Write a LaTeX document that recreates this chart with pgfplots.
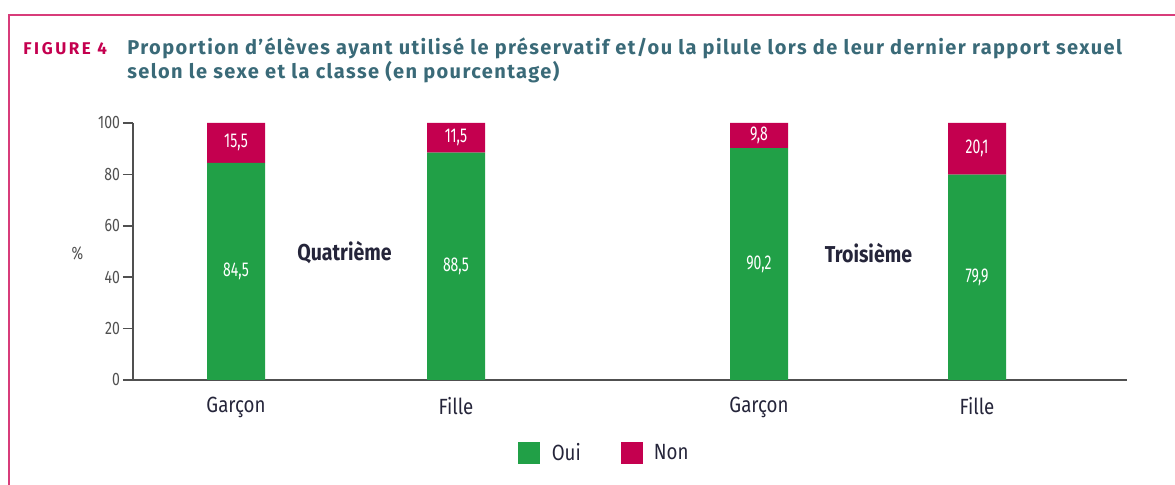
\documentclass[border=0pt]{standalone}
\usepackage{pgfplots}
\pgfplotsset{compat=1.18}
\usepackage{pgfplotstable}
\usepackage{fontspec}
\setmainfont{Fira Sans}
\newfontfamily\cond{Fira Sans}[FakeStretch=0.85]
\newfontfamily\tcond{Fira Sans}[FakeStretch=0.78]
\newfontfamily\vcond{Fira Sans}[FakeStretch=0.7]
\newfontfamily\titlefont{Fira Sans}[LetterSpace=7]
\newfontfamily\figfont{Fira Sans}[LetterSpace=15]
\definecolor{oui}{HTML}{21A047}
\definecolor{non}{HTML}{C4004F}
\definecolor{framec}{HTML}{D83C7A}
\definecolor{titlec}{HTML}{3A6A78}
\definecolor{axisc}{HTML}{505050}
\definecolor{catc}{HTML}{25253A}
\pgfplotstableread{
x oui non
236 84.5 15.5
456 88.5 11.5
759 90.2 9.8
977 79.9 20.1
}\data
\begin{document}
\begin{tikzpicture}
\pgfplotsset{
  common/.style={
    at={(66.5pt,52.5pt)}, anchor=south west,
    scale only axis, width=497pt, height=128.5pt,
    xmin=133, xmax=1127, ymin=0, ymax=100,
  }
}
\draw[framec, line width=1pt] (4.5pt,0pt) -- (4.5pt,235pt) -- (587.5pt,235pt);
\node[anchor=base west, inner sep=0pt, font=\figfont\fontsize{8.5}{10}\selectfont\bfseries, text=non] at (11.5pt,215pt) {FIGURE 4};
\node[anchor=base west, inner sep=0pt, font=\titlefont\fontsize{10}{12}\selectfont\bfseries, text=titlec] at (63.5pt,215pt) {Proportion d’élèves ayant utilisé le préservatif et/ou la pilule lors de leur dernier rapport sexuel};
\node[anchor=base west, inner sep=0pt, font=\titlefont\fontsize{10}{12}\selectfont\bfseries, text=titlec] at (63.5pt,203pt) {selon le sexe et la classe (en pourcentage)};
\begin{axis}[common, ybar stacked, bar width=29pt,
  axis lines*=left,
  axis line style={draw=axisc, line width=1pt},
  ytick={0,20,40,60,80,100},
  tick align=outside, major tick length=5pt,
  ytick style={draw=axisc, line width=0.8pt},
  xtick={236,456,759,977},
  xticklabels={Garçon,Fille,Garçon,Fille},
  xtick style={draw=none},
  /pgf/number format/assume math mode=true,
  y tick label style={font=\tcond\fontsize{9}{10}\selectfont, text=axisc, xshift=2pt},
  x tick label style={font=\cond\fontsize{11}{13}\selectfont, text=catc},
  ylabel={\%}, ylabel style={rotate=-90, font=\tcond\fontsize{9}{10}\selectfont, text=axisc, at={(rel axis cs:-0.056,0.494)}, anchor=center},
  legend style={at={(rel axis cs:0.475,-0.284)}, anchor=center, draw=none, fill=none,
    legend columns=2, font=\cond\fontsize{11}{13}\selectfont, text=catc,
    /tikz/every even column/.append style={column sep=18pt}},
  clip=false,
]
\addplot[fill=oui, draw=none, legend image code/.code={\fill[oui] (0pt,-5.5pt) rectangle (11pt,5.5pt); \path (15pt,0pt);}] table[x=x, y=oui] {\data};
\addlegendentry{Oui}
\addplot[fill=non, draw=none, legend image code/.code={\fill[non] (0pt,-5.5pt) rectangle (11pt,5.5pt); \path (14.5pt,0pt);}] table[x=x, y=non] {\data};
\addlegendentry{Non}
\node[font=\cond\bfseries\fontsize{11.5}{13}\selectfont, text=catc] at (axis cs:344.5,49.4) {Quatrième};
\node[font=\cond\bfseries\fontsize{11.5}{13}\selectfont, text=catc] at (axis cs:868.5,49.4) {Troisième};
\end{axis}
\begin{axis}[common, hide axis, clip=false]
\addplot[only marks, mark=*, mark options={draw=none, fill=none}, mark size=0pt,
  nodes near coords, point meta=explicit,
  every node near coord/.append style={anchor=center, text=white, font=\vcond\fontsize{10}{11}\selectfont},
  /pgf/number format/use comma, /pgf/number format/fixed, /pgf/number format/fixed zerofill,
  /pgf/number format/precision=1, /pgf/number format/assume math mode=true]
  table[x=x, y expr=\thisrow{oui}/2, meta=oui] {\data};
\addplot[only marks, mark=*, mark options={draw=none, fill=none}, mark size=0pt,
  nodes near coords, point meta=explicit,
  every node near coord/.append style={anchor=center, text=white, font=\vcond\fontsize{10}{11}\selectfont},
  /pgf/number format/use comma, /pgf/number format/fixed, /pgf/number format/fixed zerofill,
  /pgf/number format/precision=1, /pgf/number format/assume math mode=true]
  table[x=x, y expr=\thisrow{oui}+\thisrow{non}/2, meta=non] {\data};
\end{axis}
\pgfresetboundingbox
\path[use as bounding box] (0pt,0pt) rectangle (587.5pt,242.5pt);
\end{tikzpicture}
\end{document}
